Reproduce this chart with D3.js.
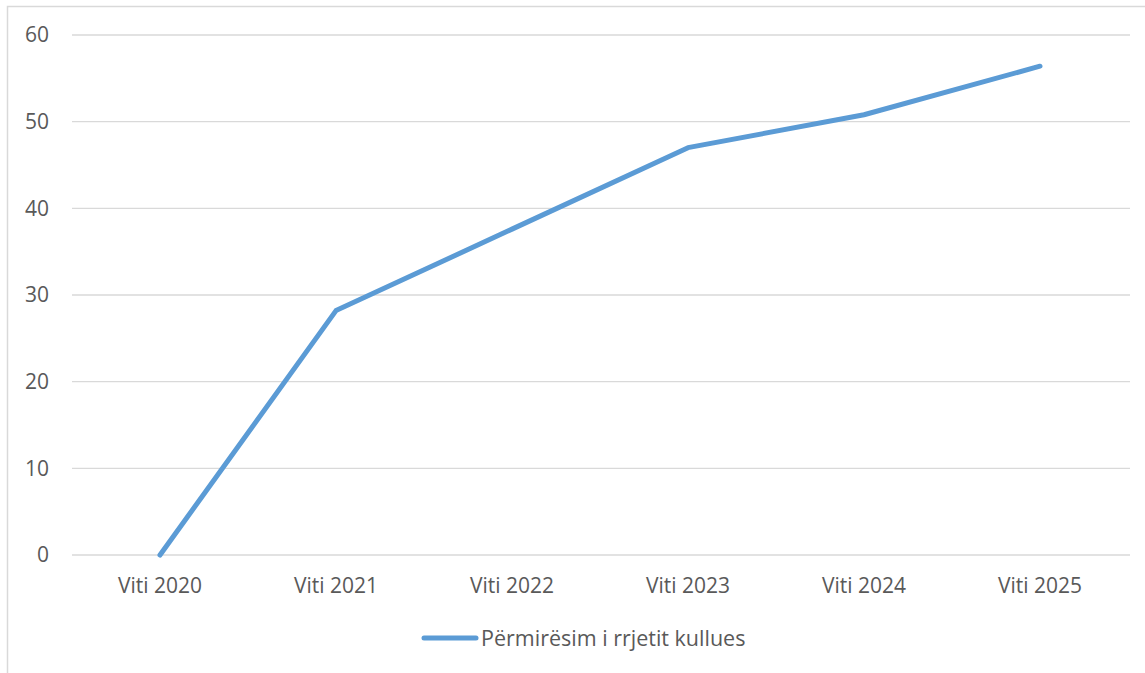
<!DOCTYPE html>
<html><head><meta charset="utf-8">
<script src="https://cdn.jsdelivr.net/npm/d3@7"></script>
<style>body{margin:0;background:#fff}svg{display:block;font-family:"Open Sans","Noto Sans",sans-serif}</style>
</head><body><svg id="c" width="1145" height="673"></svg>
<script>
const categories = ["Viti 2020","Viti 2021","Viti 2022","Viti 2023","Viti 2024","Viti 2025"];
const values = [0, 28.2, 37.6, 47.0, 50.8, 56.4];
const yTicks = [0,10,20,30,40,50,60];
const seriesName = "Përmirësim i rrjetit kullues";
const FONT = '"Open Sans","Noto Sans",sans-serif';

const svg = d3.select("#c");
svg.append("rect").attr("x",7.5).attr("y",6.5).attr("width",1150).attr("height",680)
  .attr("fill","#fff").attr("stroke","#d9d9d9").attr("stroke-width",1.5);

const x = d3.scaleBand().domain(categories).range([72,1128]);
const y = d3.scaleLinear().domain([0,60]).range([555,35]);

const grid = svg.append("g");
grid.selectAll("line").data(yTicks).join("line")
  .attr("x1",72).attr("x2",1130).attr("y1",d=>y(d)).attr("y2",d=>y(d))
  .attr("stroke","#d9d9d9").attr("stroke-width",1.3);

const yAxis = svg.append("g").attr("transform","translate(49,0)")
  .call(d3.axisLeft(y).tickValues(yTicks).tickSize(0).tickPadding(0));
yAxis.attr("font-family",FONT).attr("font-size",21);
yAxis.select(".domain").remove();
yAxis.selectAll("text").attr("fill","#595959");

const xAxis = svg.append("g").attr("transform","translate(0,555)")
  .call(d3.axisBottom(x).tickSize(0).tickPadding(23));
xAxis.attr("font-family",FONT).attr("font-size",21);
xAxis.select(".domain").remove();
xAxis.selectAll("text").attr("fill","#595959");

const line = d3.line().x((d,i)=>x(categories[i])+x.bandwidth()/2).y(d=>y(d));
svg.append("path").datum(values).attr("d",line).attr("fill","none")
  .attr("stroke","#5b9bd5").attr("stroke-width",5).attr("stroke-linecap","round").attr("stroke-linejoin","round");

const lg = svg.append("g");
lg.append("line").attr("x1",424).attr("x2",476).attr("y1",638).attr("y2",638)
  .attr("stroke","#5b9bd5").attr("stroke-width",5).attr("stroke-linecap","round");
lg.append("text").attr("x",481).attr("y",638).attr("dy","0.35em").attr("font-size",21.5)
  .attr("font-family",FONT).attr("fill","#595959").text(seriesName);
</script></body></html>
